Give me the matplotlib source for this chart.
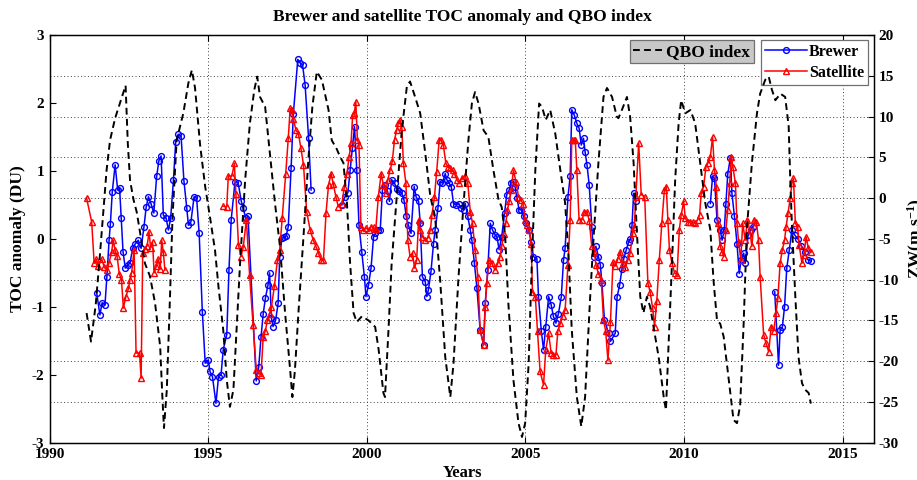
import numpy as np
import matplotlib
matplotlib.use("Agg")
import matplotlib.pyplot as plt
from matplotlib.ticker import MultipleLocator

nan = np.nan

# ---------------- data ----------------
brewer_year = [
    1991.48, 1991.58, 1991.65, 1991.74, 1991.80, 1991.87, 1991.91, 1991.97, 1992.06, 1992.14,
    1992.20, 1992.25, 1992.31, 1992.38, 1992.46, 1992.53, 1992.61, 1992.70, 1992.79, 1992.88,
    1992.97, 1993.04, 1993.11, 1993.19, 1993.28, 1993.37, 1993.44, 1993.51, 1993.58, 1993.67,
    1993.74, 1993.81, 1993.90, 1993.97, 1994.05, 1994.14, 1994.23, 1994.32, 1994.37, 1994.45,
    1994.55, 1994.63, 1994.71, 1994.81, 1994.90, 1995.00, 1995.05, 1995.13, 1995.24, 1995.32,
    1995.40, 1995.47, 1995.58, 1995.65, 1995.72, 1995.84, 1995.94, 1996.04, 1996.10, 1996.18,
    1996.25, 1996.51, 1996.59, 1996.66, 1996.73, 1996.80, 1996.88, 1996.93, 1996.99, 1997.04,
    1997.12, 1997.20, 1997.25, 1997.32, 1997.38, 1997.45, 1997.52, 1997.61, 1997.68, 1997.82,
    1997.89, 1997.97, 1998.05, 1998.16, 1998.24, 1998.70,
    1999.21, 1999.31, 1999.40, 1999.47, 1999.54, 1999.61, 1999.68, 1999.75, 1999.84, 1999.92,
    1999.97, 2000.05, 2000.13, 2000.21, 2000.26, 2000.34, 2000.42, 2000.49, 2000.57, 2000.65,
    2000.71, 2000.78, 2000.87, 2000.94, 2001.02, 2001.10, 2001.17, 2001.24, 2001.31, 2001.39,
    2001.49, 2001.55, 2001.63, 2001.68, 2001.75, 2001.84, 2001.89, 2001.94, 2002.02, 2002.10,
    2002.15, 2002.24, 2002.31, 2002.38, 2002.47, 2002.52, 2002.59, 2002.66, 2002.73, 2002.80,
    2002.89, 2002.97, 2003.05, 2003.10, 2003.18, 2003.26, 2003.31, 2003.39, 2003.47, 2003.57,
    2003.68, 2003.73, 2003.81, 2003.89, 2003.96, 2004.04, 2004.10, 2004.17, 2004.25, 2004.34,
    2004.41, 2004.49, 2004.55, 2004.60, 2004.67, 2004.73, 2004.80, 2004.86, 2004.94, 2005.01,
    2005.10, 2005.18, 2005.25, 2005.36, 2005.41, 2005.50, 2005.57, 2005.64, 2005.73, 2005.81,
    2005.88, 2005.96, 2006.04, 2006.13, 2006.20, 2006.25, 2006.34, 2006.41, 2006.46, 2006.54,
    2006.62, 2006.69, 2006.76, 2006.83, 2006.88, 2006.94, 2007.01, 2007.09, 2007.15, 2007.22,
    2007.30, 2007.36, 2007.41, 2007.49, 2007.62, 2007.68, 2007.83, 2007.89, 2007.97, 2008.04,
    2008.10, 2008.18, 2008.25, 2008.31, 2008.36, 2008.41, 2008.48, 2009.50,
    2010.83, 2010.90, 2010.96, 2011.04, 2011.14, 2011.20, 2011.27, 2011.32, 2011.38, 2011.46,
    2011.51, 2011.59, 2011.67, 2011.74, 2011.80, 2011.88, 2011.93, 2012.02, 2012.10, 2012.16,
    2012.50,
    2012.86, 2012.98, 2013.03, 2013.10, 2013.17, 2013.24, 2013.32, 2013.40, 2013.50, 2013.59,
    2013.70, 2013.80, 2013.91, 2014.01,
]
brewer_toc = [
    -0.80, -1.12, -0.94, -0.97, -0.56, -0.02, 0.22, 0.69, 1.09, 0.72,
    0.75, 0.31, -0.19, -0.43, -0.38, -0.36, -0.14, -0.07, -0.02, -0.14,
    0.18, 0.47, 0.62, 0.52, 0.38, 0.92, 1.15, 1.22, 0.35, 0.30,
    0.13, 0.30, 0.87, 1.43, 1.54, 1.51, 0.85, 0.45, 0.20, 0.25,
    0.62, 0.60, 0.08, -1.07, -1.83, -1.78, -1.95, -2.03, -2.42, -2.03,
    -2.00, -1.63, -1.41, -0.46, 0.28, 0.84, 0.82, 0.55, 0.45, 0.30,
    0.33, -2.09, -1.88, -1.45, -1.10, -0.87, -0.68, -0.50, -1.17, -1.29,
    -1.20, -0.95, -0.26, 0.01, 0.02, 0.04, 0.18, 1.05, 1.84, 2.64,
    2.59, 2.56, 2.27, 1.49, 0.72, nan,
    0.50, 0.62, 0.68, 1.01, 1.33, 1.65, 1.01, 0.20, -0.20, -0.56,
    -0.85, -0.68, -0.43, 0.03, 0.08, 0.13, 0.13, 0.72, 0.79, 0.70,
    0.55, 0.87, 0.82, 0.74, 0.70, 0.67, 0.57, 0.33, 0.20, 0.08,
    0.77, 0.62, 0.55, 0.23, -0.56, -0.63, -0.85, -0.75, -0.48, -0.07,
    0.13, 0.45, 0.84, 0.82, 0.96, 0.87, 0.82, 0.77, 0.52, 0.50,
    0.52, 0.45, 0.43, 0.52, 0.33, 0.13, -0.02, -0.36, -0.73, -1.34,
    -1.56, -0.95, -0.46, 0.23, 0.13, 0.06, 0.03, -0.16, 0.03, 0.38,
    0.65, 0.72, 0.82, 0.84, 0.77, 0.60, 0.43, 0.43, 0.33, 0.23,
    0.13, -0.04, -0.26, -0.29, -0.85, -1.36, -1.63, -1.29, -0.85, -0.97,
    -1.14, -1.24, -1.10, -0.85, -0.31, -0.14, 0.62, 0.92, 1.90, 1.82,
    1.70, 1.63, 1.38, 1.48, 1.28, 1.09, 0.79, 0.18, -0.26, -0.11,
    -0.26, -0.38, -0.65, -1.19, -1.39, -1.51, -1.39, -0.85, -0.68, -0.45,
    -0.29, -0.16, -0.05, 0.00, 0.20, 0.67, 0.55, nan,
    0.52, 0.92, 0.89, 0.28, 0.13, -0.02, 0.13, 0.52, 0.96, 1.19,
    0.67, 0.33, -0.07, -0.51, -0.31, -0.21, -0.36, 0.05, 0.13, 0.18,
    nan,
    -0.78, -1.86, -1.34, -1.30, -1.00, -0.43, -0.16, 0.13, 0.05, 0.00,
    -0.10, -0.19, -0.31, -0.33,
]

sat_year = [
    1991.16, 1991.32, 1991.40, 1991.47, 1991.53, 1991.64, 1991.72, 1991.80, 1991.87, 1991.95,
    1992.00, 1992.06, 1992.12, 1992.19, 1992.26, 1992.32, 1992.40, 1992.48, 1992.53, 1992.58,
    1992.66, 1992.72, 1992.83, 1992.88, 1992.93, 1993.00, 1993.07, 1993.13, 1993.18, 1993.24,
    1993.29, 1993.36, 1993.42, 1993.48, 1993.53, 1993.58, 1993.63, 1994.50,
    1995.47, 1995.58, 1995.63, 1995.74, 1995.82, 1995.87, 1995.95, 1996.03, 1996.10, 1996.20,
    1996.30, 1996.41, 1996.51, 1996.59, 1996.66, 1996.73, 1996.80, 1996.86, 1996.93, 1996.99,
    1997.08, 1997.18, 1997.25, 1997.33, 1997.44, 1997.52, 1997.58, 1997.63, 1997.68, 1997.76,
    1997.84, 1997.92, 1998.00, 1998.10, 1998.21, 1998.31, 1998.39, 1998.47, 1998.55, 1998.63,
    1998.71, 1998.79, 1998.87, 1998.94, 1999.02, 1999.10, 1999.21, 1999.29, 1999.37, 1999.44,
    1999.50, 1999.55, 1999.60, 1999.65, 1999.70, 1999.75, 1999.81, 1999.89, 1999.97, 2000.05,
    2000.13, 2000.21, 2000.28, 2000.36, 2000.45, 2000.52, 2000.59, 2000.66, 2000.73, 2000.80,
    2000.87, 2000.94, 2000.99, 2001.05, 2001.10, 2001.15, 2001.23, 2001.29, 2001.36, 2001.44,
    2001.50, 2001.57, 2001.63, 2001.68, 2001.75, 2001.84, 2001.92, 2002.00, 2002.05, 2002.13,
    2002.20, 2002.28, 2002.34, 2002.41, 2002.49, 2002.55, 2002.62, 2002.70, 2002.76, 2002.84,
    2002.91, 2002.99, 2003.10, 2003.18, 2003.26, 2003.33, 2003.41, 2003.50, 2003.57, 2003.68,
    2003.73, 2003.78, 2003.85, 2003.94, 2004.04, 2004.13, 2004.20, 2004.25, 2004.31, 2004.38,
    2004.43, 2004.49, 2004.55, 2004.62, 2004.70, 2004.78, 2004.85, 2004.92, 2004.99, 2005.04,
    2005.12, 2005.18, 2005.22, 2005.31, 2005.38, 2005.46, 2005.57, 2005.64, 2005.73, 2005.81,
    2005.88, 2005.96, 2006.02, 2006.10, 2006.17, 2006.25, 2006.34, 2006.41, 2006.46, 2006.52,
    2006.57, 2006.62, 2006.69, 2006.78, 2006.86, 2006.94, 2007.01, 2007.09, 2007.17, 2007.22,
    2007.30, 2007.39, 2007.46, 2007.53, 2007.60, 2007.68, 2007.76, 2007.83, 2007.91, 2007.99,
    2008.06, 2008.15, 2008.23, 2008.30, 2008.38, 2008.43, 2008.48, 2008.57, 2008.65, 2008.76,
    2008.86, 2008.93, 2009.01, 2009.07, 2009.14, 2009.22, 2009.30, 2009.38, 2009.44, 2009.49,
    2009.54, 2009.62, 2009.70, 2009.78, 2009.85, 2009.91, 2009.99, 2010.04, 2010.12, 2010.20,
    2010.27, 2010.35, 2010.43, 2010.49, 2010.54, 2010.62, 2010.69, 2010.75, 2010.83, 2010.90,
    2010.96, 2011.02, 2011.07, 2011.14, 2011.20, 2011.25, 2011.32, 2011.38, 2011.44, 2011.49,
    2011.54, 2011.62, 2011.67, 2011.72, 2011.79, 2011.85, 2011.93, 2012.00, 2012.07, 2012.14,
    2012.21, 2012.28, 2012.35, 2012.40, 2012.51, 2012.58, 2012.67, 2012.75, 2012.83, 2012.90,
    2012.96, 2013.03, 2013.10, 2013.17, 2013.22, 2013.28, 2013.35, 2013.40, 2013.45, 2013.51,
    2013.58, 2013.63, 2013.72, 2013.78, 2013.85, 2013.92, 2014.00,
]
sat_toc = [
    0.60, 0.25, -0.36, -0.30, -0.40, -0.30, -0.42, -0.46, -0.35, -0.19,
    -0.02, -0.17, -0.25, -0.51, -0.60, -1.02, -0.85, -0.73, -0.60, -0.50,
    -0.16, -1.68, -1.68, -2.05, -0.21, -0.15, -0.10, 0.10, -0.13, -0.05,
    -0.50, -0.40, -0.30, -0.45, -0.02, -0.20, -0.46, nan,
    0.48, 0.47, 0.93, 0.92, 1.11, 0.66, -0.09, -0.26, -0.12, 0.28,
    -0.53, -1.27, -1.93, -1.98, -2.00, -1.44, -1.35, -1.20, -1.10, -1.00,
    -0.70, -0.31, -0.16, 0.31, 0.96, 1.48, 1.92, 1.90, 1.77, 1.60,
    1.55, 1.33, 1.09, 0.40, 0.13, -0.02, -0.11, -0.21, -0.31, -0.31,
    0.38, 0.79, 0.96, 0.81, 0.62, 0.47, 0.52, 0.77, 0.96, 1.21,
    1.41, 1.82, 1.85, 2.02, 1.46, 1.38, 0.18, 0.13, 0.16, 0.13,
    0.18, 0.17, 0.14, 0.62, 0.96, 0.79, 0.67, 0.87, 1.01, 1.14,
    1.46, 1.60, 1.70, 1.75, 1.65, 1.11, 0.82, -0.02, -0.26, -0.21,
    -0.43, -0.31, 0.28, 0.13, 0.03, -0.02, 0.01, 0.13, 0.35, 0.62,
    0.99, 1.46, 1.46, 1.38, 1.11, 1.06, 1.04, 1.01, 0.96, 0.87,
    0.82, 0.89, 0.92, 0.82, 0.40, 0.23, -0.16, -0.56, -1.34, -1.56,
    -1.00, -0.65, -0.31, -0.36, -0.46, -0.36, -0.26, -0.11, 0.07, 0.23,
    0.43, 0.55, 0.72, 1.01, 0.84, 0.62, 0.57, 0.52, 0.28, 0.20,
    0.13, -0.07, -0.78, -0.85, -1.36, -1.95, -2.15, -1.63, -1.39, -1.68,
    -1.71, -1.71, -1.36, -1.24, -1.14, -1.05, -0.38, 0.28, 1.46, 1.46,
    1.46, 1.01, 0.28, 0.28, 0.40, 0.40, 0.27, -0.11, -0.19, -0.38,
    -0.51, -0.60, -1.19, -1.36, -1.79, -1.22, -0.34, -0.40, -0.30, -0.19,
    -0.36, -0.41, -0.31, -0.21, 0.08, 0.18, 0.62, 1.41, 0.65, 0.62,
    -0.65, -0.78, -1.02, -1.29, -0.92, -0.31, 0.23, 0.72, 0.77, 0.28,
    -0.16, -0.36, -0.50, -0.53, 0.13, 0.35, 0.55, 0.30, 0.25, 0.25,
    0.25, 0.23, 0.28, 0.35, 0.67, 0.77, 1.06, 1.11, 1.21, 1.50,
    1.01, 0.77, 0.23, -0.11, -0.19, -0.26, 0.13, 0.43, 0.82, 1.21,
    1.06, 0.82, 0.23, -0.04, -0.31, 0.23, -0.02, 0.28, 0.13, -0.11,
    0.28, 0.25, -0.02, -0.56, -1.41, -1.53, -1.66, -1.29, -1.35, -1.09,
    -0.87, -0.36, -0.16, -0.02, 0.18, 0.38, 0.60, 0.82, 0.89, 0.23,
    0.18, -0.09, -0.36, -0.24, 0.03, -0.14, -0.20,
]

qbo_year = [
    1991.16, 1991.30, 1991.45, 1991.58, 1991.69, 1991.79, 1991.90, 1992.06, 1992.21, 1992.39,
    1992.46, 1992.53, 1992.64, 1992.74, 1992.85, 1993.00, 1993.16, 1993.32, 1993.48, 1993.55,
    1993.60, 1993.69, 1993.79, 1993.87, 1994.00, 1994.21, 1994.37, 1994.48, 1994.58, 1994.74,
    1994.90, 1995.05, 1995.21, 1995.32, 1995.47, 1995.58, 1995.68, 1995.79, 1995.89, 1996.00,
    1996.16, 1996.31, 1996.45, 1996.54, 1996.63, 1996.79, 1996.95, 1997.10, 1997.26, 1997.42,
    1997.58, 1997.65, 1997.73, 1997.84, 1998.00, 1998.16, 1998.28, 1998.42, 1998.58, 1998.79,
    1998.89, 1999.05, 1999.15, 1999.26, 1999.37, 1999.47, 1999.58, 1999.68, 1999.84, 2000.05,
    2000.26, 2000.37, 2000.52, 2000.57, 2000.68, 2000.78, 2000.94, 2001.10, 2001.26, 2001.36,
    2001.52, 2001.68, 2001.84, 2002.00, 2002.15, 2002.31, 2002.47, 2002.63, 2002.73, 2002.89,
    2003.05, 2003.20, 2003.31, 2003.41, 2003.52, 2003.68, 2003.83, 2003.99, 2004.15, 2004.25,
    2004.36, 2004.46, 2004.62, 2004.78, 2004.89, 2004.99, 2005.10, 2005.20, 2005.31, 2005.43,
    2005.52, 2005.64, 2005.78, 2005.94, 2006.10, 2006.25, 2006.36, 2006.46, 2006.62, 2006.76,
    2006.88, 2007.04, 2007.15, 2007.30, 2007.46, 2007.57, 2007.73, 2007.88, 2007.93, 2008.04,
    2008.20, 2008.30, 2008.41, 2008.51, 2008.62, 2008.72, 2008.83, 2008.93, 2009.04, 2009.20,
    2009.36, 2009.43, 2009.51, 2009.62, 2009.72, 2009.83, 2009.91, 2010.04, 2010.20, 2010.35,
    2010.51, 2010.67, 2010.83, 2010.93, 2011.04, 2011.14, 2011.25, 2011.41, 2011.56, 2011.67,
    2011.77, 2011.88, 2011.98, 2012.14, 2012.30, 2012.40, 2012.56, 2012.67, 2012.77, 2012.88,
    2013.04, 2013.19, 2013.30, 2013.35, 2013.40, 2013.51, 2013.61, 2013.72, 2013.82, 2013.93,
    2014.00,
]
qbo_zw = [
    -14.1, -17.6, -13.0, -7.0, -1.5, 3.4, 7.1, 9.8, 11.6, 13.8,
    6.7, 2.2, -0.2, -1.7, -4.3, -8.0, -9.6, -12.9, -18.2, -24.4,
    -28.2, -23.5, -12.1, -2.3, 7.1, 10.4, 14.1, 15.7, 13.5, 6.5,
    1.4, -2.3, -6.4, -10.9, -16.2, -22.3, -25.6, -23.5, -16.2, -8.0,
    2.2, 9.2, 13.3, 14.9, 12.4, 11.2, 5.1, -0.6, -6.0, -14.1,
    -21.1, -24.4, -21.1, -14.1, -4.7, 5.1, 11.2, 15.5, 14.5, 10.8,
    7.1, 6.0, 5.1, 4.3, -0.6, -8.0, -14.1, -15.2, -14.5, -15.0,
    -15.8, -18.6, -23.9, -24.4, -16.2, -8.0, 0.2, 8.3, 13.7, 14.3,
    12.4, 10.4, 5.5, 0.2, -2.3, -10.1, -19.5, -24.4, -20.3, -9.6,
    -0.6, 7.1, 11.6, 13.0, 11.6, 8.3, 7.5, 3.4, -0.2, -1.1,
    -4.7, -12.9, -22.3, -27.6, -29.3, -27.6, -20.3, -8.0, 3.4, 11.6,
    11.2, 9.6, 10.8, 7.9, 3.4, -0.6, -7.2, -16.2, -24.4, -28.0,
    -24.4, -12.1, -4.7, 4.3, 12.4, 13.5, 12.4, 10.0, 9.8, 10.8,
    12.4, 10.0, 4.3, -3.9, -12.1, -14.1, -12.1, -13.3, -15.8, -19.5,
    -24.4, -26.0, -18.2, -8.0, 2.2, 9.2, 12.0, 10.4, 10.8, 9.2,
    4.3, -0.6, -3.9, -10.1, -15.0, -15.4, -17.0, -22.3, -27.2, -27.6,
    -25.4, -15.4, -3.9, 4.3, 10.4, 12.8, 14.5, 14.9, 13.3, 12.0,
    12.8, 12.4, 8.8, 2.2, -3.1, -12.1, -19.5, -22.7, -23.5, -23.9,
    -25.2,
]

x_ticks = [1990, 1995, 2000, 2005, 2010, 2015]
toc_ticks = [-3, -2, -1, 0, 1, 2, 3]
zw_ticks = [-30, -25, -20, -15, -10, -5, 0, 5, 10, 15, 20]

# ---------------- style ----------------
SERIF = ['Liberation Serif', 'DejaVu Serif']
plt.rcParams['font.family'] = SERIF
plt.rcParams['font.weight'] = 'bold'
plt.rcParams['mathtext.fontset'] = 'custom'
plt.rcParams['mathtext.rm'] = 'Liberation Serif:bold'
plt.rcParams['mathtext.it'] = 'Liberation Serif:bold:italic'
plt.rcParams['mathtext.bf'] = 'Liberation Serif:bold'

W, H = 917, 480
fig = plt.figure(figsize=(W / 100, H / 100), dpi=100, facecolor='white')
L, R, T, B = 49.8, 874.3, 35.0, 442.7
ax = fig.add_axes([L / W, 1 - B / H, (R - L) / W, (B - T) / H])
ax2 = ax.twinx()

lw = 1.1
ln_b, = ax.plot(brewer_year, brewer_toc, color='#0000ff', lw=lw, marker='o',
                ms=4.2, mfc='none', mec='#0000ff', mew=1.0, label='Brewer', zorder=3)
ln_s, = ax.plot(sat_year, sat_toc, color='#ff0000', lw=lw, marker='^',
                ms=5.0, mfc='none', mec='#ff0000', mew=1.0, label='Satellite', zorder=4)
ln_q, = ax2.plot(qbo_year, qbo_zw, color='black', lw=1.4, ls=(0, (3.5, 2.2)),
                 label='QBO index', zorder=6)

ax.set_xlim(1990, 2016)
ax.set_ylim(-3, 3)
ax2.set_ylim(-30, 20)
ax.set_xticks(x_ticks)
ax.set_yticks(toc_ticks)
ax2.set_yticks(zw_ticks)
ax.yaxis.set_minor_locator(MultipleLocator(0.6))

tick_font = dict(family=SERIF, weight='bold', size=11)
ax.set_xticklabels([str(v) for v in x_ticks], fontdict=tick_font)
ax.set_yticklabels([str(v) for v in toc_ticks], fontdict=tick_font)
ax2.set_yticklabels([str(v) for v in zw_ticks], fontdict=tick_font)

ax.tick_params(axis='x', direction='in', length=4, width=0.8, top=True, pad=4)
ax.tick_params(axis='y', which='major', direction='in', length=4, width=0.8, pad=4)
ax.tick_params(axis='y', which='minor', length=0)
ax2.tick_params(axis='y', direction='in', length=4, width=0.8, pad=3)

grid_kw = dict(color='#404040', linestyle=(0, (1, 2.5)), linewidth=0.7)
ax.grid(axis='x', which='major', **grid_kw)
ax.grid(axis='y', which='minor', **grid_kw)
ax.set_axisbelow(True)

for sp in ax.spines.values():
    sp.set_linewidth(0.9)
for sp in ax2.spines.values():
    sp.set_linewidth(0.9)

ax.set_title('Brewer and satellite TOC anomaly and QBO index', fontsize=12.5,
             fontweight='bold', pad=10)
ax.set_xlabel('Years', fontsize=12, fontweight='bold', labelpad=3)
ax.set_ylabel('TOC anomaly (DU)', fontsize=12.5, fontweight='bold', labelpad=4)
ax2.set_ylabel('ZW(m s$^{-1}$)', fontsize=12.5, fontweight='bold', labelpad=5)

leg1 = ax2.legend([ln_q], ['QBO index'], loc='upper left',
                  bbox_to_anchor=(630 / W, 1 - 40 / H), bbox_transform=fig.transFigure,
                  borderaxespad=0, fancybox=False, framealpha=1, facecolor='#c8c8c8',
                  edgecolor='#707070', prop=dict(family=SERIF, weight='bold', size=12.5),
                  handlelength=1.7, handletextpad=0.2, borderpad=0.2)
leg1.get_frame().set_linewidth(0.9)
ax2.add_artist(leg1)
leg2 = ax2.legend([ln_b, ln_s], ['Brewer', 'Satellite'], loc='upper left',
                  bbox_to_anchor=(761 / W, 1 - 40 / H), bbox_transform=fig.transFigure,
                  borderaxespad=0, fancybox=False, framealpha=1, facecolor='white',
                  edgecolor='#707070', prop=dict(family=SERIF, weight='bold', size=11.5),
                  handlelength=2.6, handletextpad=0.15, borderpad=0.25, labelspacing=0.3)
leg2.get_frame().set_linewidth(0.9)
leg1.set_zorder(5)
leg2.set_zorder(5)

fig.savefig('out.png', dpi=100, facecolor='white')
